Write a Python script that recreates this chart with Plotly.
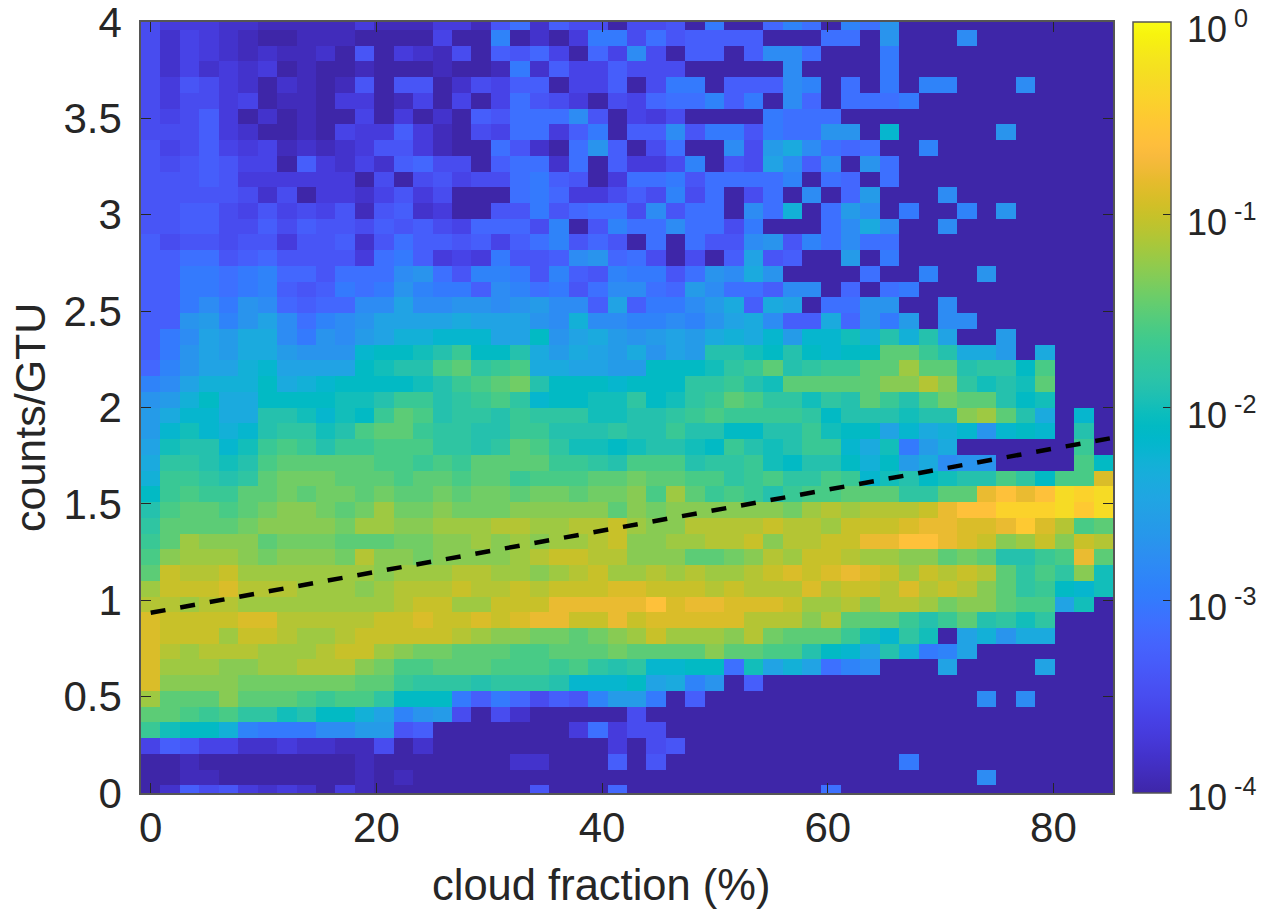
import numpy as np
import plotly.graph_objects as go

# Cell values as tenths of a decade above 1e-4 (0 = 1e-4 floor, 40 = 1e0); rows from y=4 down to y=0.
# Trailing empty bins are left out and filled with the floor value.
row_00 = [5,3,3,3,2,2,1,1,1,1,1,3,1,1,1,3,3,1,6,9,2,7,5,5,0,5,5,6,0,10,0,0,8,11,9,0,11,9,13]
row_01 = [5,2,4,3,2,1,0,0,1,1,1,0,0,0,0,4,0,0,11,0,2,0,3,10,10,5,9,6,7,7,7,7,0,0,0,9,9,0,13,0,0,0,12]
row_02 = [5,2,4,3,2,1,2,1,1,2,0,6,0,3,2,1,5,0,7,6,8,4,0,8,4,12,5,0,7,7,0,7,12,12,9,0,0,0,10]
row_03 = [5,2,4,2,3,2,3,0,1,0,0,1,0,0,0,1,0,0,1,10,2,7,4,4,7,5,5,5,0,0,0,0,0,12,0,0,0,0,10]
row_04 = [5,3,6,5,3,2,0,2,1,0,1,6,0,6,6,0,2,5,4,7,7,0,4,4,7,0,5,10,10,0,7,7,7,12,11,0,9,0,10,0,11,11,0,0,0,12]
row_05 = [5,3,5,5,3,4,0,1,1,0,3,3,0,1,4,0,4,0,4,9,6,5,3,0,5,4,8,9,9,11,7,10,0,12,8,0,9,9,9,10]
row_06 = [5,4,5,7,3,0,2,0,1,0,0,4,0,3,0,2,0,7,6,9,9,9,12,6,0,4,3,5,0,0,0,0,10,9,9,9]
row_07 = [5,5,5,7,3,2,0,0,1,0,4,3,3,7,3,1,0,5,4,9,9,3,7,10,0,7,7,12,6,10,10,6,10,9,9,13,13,0,18,0,0,0,0,0,13]
row_08 = [6,4,5,7,4,3,4,1,2,1,2,3,6,6,3,1,0,0,9,6,2,0,9,13,7,0,5,9,0,0,12,5,14,16,12,9,8,9,0,0,11]
row_09 = [6,5,6,7,6,4,4,0,7,3,2,4,2,7,8,5,5,0,7,9,9,2,9,0,7,3,3,5,11,0,6,5,15,12,7,12,0,13,9]
row_10 = [6,6,6,7,6,3,3,3,3,3,3,0,5,0,5,6,4,5,5,9,10,7,6,0,3,9,9,10,6,9,9,9,9,11,0,9,8,0,9]
row_11 = [6,6,6,6,6,5,2,5,0,3,3,2,4,6,3,5,0,0,0,9,10,8,3,3,5,7,5,11,5,9,0,5,9,0,12,0,8,14,0,0,0,12]
row_12 = [6,6,7,7,5,4,6,4,5,4,6,1,6,7,2,3,0,0,6,6,10,6,8,9,9,5,12,6,9,9,0,12,9,17,0,9,14,12,0,10,0,0,11,0,13]
row_13 = [6,6,7,7,5,5,7,5,7,6,6,5,7,6,7,5,4,8,8,8,5,11,0,6,11,9,9,12,9,9,5,10,0,0,0,9,12,16,12,0,0,12]
row_14 = [7,5,6,6,5,6,6,3,6,6,7,2,6,9,7,7,6,7,4,7,9,11,6,8,6,0,9,0,9,6,6,12,13,6,11,9,12,9,9]
row_15 = [7,7,9,9,6,7,8,6,6,6,6,3,9,10,7,3,4,3,10,6,6,7,12,13,8,9,5,0,5,0,7,15,6,7,0,0,14,0,10]
row_16 = [7,7,10,10,9,10,11,8,8,6,9,9,9,12,13,9,6,11,11,10,6,11,7,6,11,10,10,6,9,13,12,16,13,0,0,0,0,9,0,0,11,0,0,13]
row_17 = [7,7,10,10,9,10,11,7,6,7,10,9,10,13,11,10,10,7,12,11,9,10,6,9,12,12,9,8,14,12,9,9,7,12,12,0,8,0,9,10]
row_18 = [7,7,10,12,10,13,12,8,7,8,8,12,12,15,12,12,13,13,12,13,14,12,12,7,15,7,10,10,12,14,16,7,16,15,0,9,9,13,13,0,0,12]
row_19 = [7,7,13,14,11,13,15,12,9,11,12,13,15,15,15,15,16,15,15,15,13,12,17,12,12,11,11,12,11,13,15,16,12,7,7,16,8,13,10,14,0,12,12]
row_20 = [7,10,12,15,14,16,16,12,10,13,12,14,15,17,17,18,18,18,15,15,19,13,15,16,14,13,14,15,14,16,17,16,18,14,18,18,20,17,21,17,21,15,0,0,14]
row_21 = [7,10,13,15,14,16,16,14,13,13,13,18,19,19,20,21,23,19,19,21,16,14,16,15,14,16,13,15,14,21,21,20,19,21,19,18,19,19,25,26,23,21,16,16,14,0,16]
row_22 = [8,11,13,15,15,17,18,15,15,15,15,19,20,21,21,24,25,22,23,24,16,16,15,15,14,14,19,19,19,20,22,23,26,21,22,23,23,25,25,29,26,26,21,22,22,19,24]
row_23 = [11,12,15,17,17,17,19,16,17,18,19,19,19,19,20,21,23,24,25,27,21,19,19,19,18,19,19,19,22,22,23,21,20,25,25,26,26,26,28,28,30,28,22,20,21,20,26]
row_24 = [13,14,17,19,16,16,19,19,19,19,20,20,21,23,23,21,22,23,24,22,18,19,19,20,20,22,19,20,22,23,25,24,22,22,20,22,21,25,23,21,24,27,26,26,21,19,20]
row_25 = [14,16,18,18,16,16,21,21,20,18,20,19,23,25,24,21,22,22,21,23,22,22,22,20,20,21,21,22,23,24,23,23,23,23,22,19,21,21,21,20,21,21,28,29,26,21,16,0,18]
row_26 = [14,18,20,18,17,18,21,22,22,20,21,24,25,25,23,22,22,21,21,23,23,21,21,21,22,21,21,23,21,21,19,19,21,21,23,20,19,19,15,18,16,17,18,13,18,19,18,0,21]
row_27 = [15,20,21,21,18,20,23,24,23,21,23,23,24,24,24,22,22,21,22,25,24,22,20,20,19,20,21,21,20,19,23,21,20,21,23,23,18,16,20,10,14,16,0,0,0,0,0,0,23]
row_28 = [16,22,22,21,20,21,24,26,26,25,25,25,24,24,23,24,23,25,26,26,25,23,23,22,21,24,24,24,21,22,22,23,20,19,21,21,19,17,19,14,16,12,13,13,0,0,0,0,24,19]
row_29 = [17,23,23,22,21,22,25,27,27,27,25,25,25,24,26,25,24,25,25,23,24,24,24,25,26,27,25,26,24,24,22,23,24,22,22,24,23,18,20,21,19,20,21,21,24,22,19,24,24,32]
row_30 = [19,23,24,23,23,26,26,27,26,27,27,26,27,25,25,27,25,27,27,25,27,27,26,27,27,28,24,29,25,23,24,23,21,23,24,24,25,25,25,22,22,26,26,33,34,33,34,37,36,37]
row_31 = [21,24,25,25,24,26,27,28,28,27,26,27,29,27,27,28,27,27,27,28,28,28,28,28,26,28,27,28,28,28,28,28,28,27,29,30,29,30,30,30,31,33,34,34,36,36,36,37,35,37]
row_32 = [22,25,26,26,25,27,28,28,28,28,27,29,29,28,28,29,29,29,30,30,29,29,30,30,31,29,28,28,30,30,30,30,31,30,30,29,31,31,31,32,33,33,32,32,33,35,32,30,24,26]
row_33 = [23,26,29,28,28,28,26,27,27,27,26,26,26,27,27,28,28,29,28,29,28,29,29,30,31,28,28,29,29,30,30,31,28,30,30,31,31,33,33,34,34,33,32,31,28,29,31,28,31,30]
row_34 = [24,28,29,29,29,28,27,28,28,28,27,30,28,28,27,28,28,28,28,29,30,31,31,30,30,28,28,28,26,26,27,28,30,29,31,31,30,29,29,28,28,25,27,26,21,21,23,24,33,25]
row_35 = [26,31,30,30,31,29,29,29,29,29,29,29,28,29,29,29,30,30,29,29,28,29,30,31,29,29,30,29,30,29,29,30,31,32,31,32,33,32,31,29,31,30,31,30,25,22,24,22,28,20]
row_36 = [29,31,31,31,32,30,30,30,29,29,29,28,29,30,30,30,31,30,30,31,30,31,31,31,32,32,31,31,31,30,31,30,30,30,32,30,31,31,30,32,30,31,30,28,25,22,23,19,18,20]
row_37 = [30,30,29,30,30,29,29,29,29,29,29,29,29,30,31,31,29,29,31,31,31,33,33,33,33,33,34,32,33,33,32,32,32,31,29,29,30,28,30,30,29,27,28,28,25,24,24,15,20]
row_38 = [32,31,31,31,31,32,32,30,30,30,30,30,31,31,32,31,31,32,31,32,33,33,31,31,33,31,32,32,32,32,32,30,30,30,28,30,26,26,25,23,21,23,25,21,22,20,22]
row_39 = [32,31,31,31,29,31,31,30,29,29,30,31,31,31,31,31,30,29,28,28,27,27,26,27,28,29,31,29,29,29,28,30,27,26,26,25,23,20,18,22,20,0,15,17,13,16,16]
row_40 = [32,30,29,30,30,30,29,29,29,30,31,31,29,28,27,27,26,26,25,24,24,26,26,26,27,26,26,26,25,28,25,25,24,24,21,19,18,15,21,17,10,11,15]
row_41 = [32,29,29,29,28,28,29,29,30,30,30,28,27,24,24,25,25,25,24,24,24,23,24,22,21,22,18,18,19,19,9,20,15,17,15,9,11,12,0,0,0,15,0,0,0,0,15]
row_42 = [32,28,28,28,28,27,27,27,27,27,27,26,25,23,22,22,22,21,22,22,22,21,18,18,18,19,15,16,11,13,0,7]
row_43 = [29,26,26,26,28,26,25,25,24,23,24,24,22,19,19,19,10,7,10,8,5,7,6,11,14,14,10,0,7,0,0,0,0,0,0,0,0,0,0,0,0,0,0,12,0,12]
row_44 = [26,25,24,23,24,22,22,20,21,19,19,17,15,11,13,14,5,0,5,2,0,0,0,0,0,5]
row_45 = [23,20,19,19,17,11,10,10,10,12,12,14,14,6,7,0,0,0,0,0,0,0,3,9,3,5,5]
row_46 = [4,7,6,4,4,2,2,3,2,2,1,1,5,0,2,0,0,0,0,0,0,0,0,0,3,0,5,6]
row_47 = [0,0,1,0,0,0,0,0,0,0,0,1,0,0,0,0,0,0,0,2,2,0,0,0,7,0,6,0,0,0,0,0,0,0,0,0,0,0,0,10]
row_48 = [0,0,1,1,0,0,0,0,0,0,0,1,0,1,0,0,0,0,0,0,0,0,0,0,0,0,0,0,0,0,0,0,0,0,0,0,0,0,0,0,0,0,0,12]
row_49 = [0,2,7,5,6,3,2,3,2,0,3,1,0,0,0,0,0,0,0,0,6,0,0,0,8,0,0,0,0,0,0,0,0,0,0,9]

level_rows = [row_00,row_01,row_02,row_03,row_04,row_05,row_06,row_07,row_08,row_09,
              row_10,row_11,row_12,row_13,row_14,row_15,row_16,row_17,row_18,row_19,
              row_20,row_21,row_22,row_23,row_24,row_25,row_26,row_27,row_28,row_29,
              row_30,row_31,row_32,row_33,row_34,row_35,row_36,row_37,row_38,row_39,
              row_40,row_41,row_42,row_43,row_44,row_45,row_46,row_47,row_48,row_49]

x_ticks = [0, 20, 40, 60, 80]
y_ticks = [0, 0.5, 1, 1.5, 2, 2.5, 3, 3.5, 4]
y_tick_labels = ["0", "0.5", "1", "1.5", "2", "2.5", "3", "3.5", "4"]
cbar_decades = [-4, -3, -2, -1, 0]
fit_x = [0, 85]
fit_y = [0.935, 1.84]

parula = [
 (0.2422,0.1504,0.6603),(0.2504,0.1650,0.7076),(0.2578,0.1818,0.7511),(0.2647,0.1978,0.7952),
 (0.2706,0.2147,0.8364),(0.2751,0.2342,0.8710),(0.2783,0.2559,0.8991),(0.2803,0.2782,0.9221),
 (0.2813,0.3006,0.9414),(0.2810,0.3228,0.9579),(0.2795,0.3447,0.9717),(0.2760,0.3667,0.9829),
 (0.2699,0.3892,0.9906),(0.2602,0.4123,0.9952),(0.2440,0.4358,0.9988),(0.2206,0.4603,0.9973),
 (0.1963,0.4847,0.9892),(0.1834,0.5074,0.9798),(0.1786,0.5289,0.9682),(0.1764,0.5499,0.9520),
 (0.1687,0.5703,0.9359),(0.1540,0.5902,0.9218),(0.1460,0.6091,0.9079),(0.1380,0.6276,0.8973),
 (0.1248,0.6459,0.8883),(0.1113,0.6635,0.8763),(0.0952,0.6798,0.8598),(0.0689,0.6948,0.8394),
 (0.0297,0.7082,0.8163),(0.0036,0.7203,0.7917),(0.0067,0.7312,0.7660),(0.0433,0.7411,0.7394),
 (0.0964,0.7500,0.7120),(0.1408,0.7584,0.6842),(0.1717,0.7670,0.6554),(0.1938,0.7758,0.6251),
 (0.2161,0.7843,0.5923),(0.2470,0.7918,0.5567),(0.2906,0.7973,0.5188),(0.3406,0.8008,0.4789),
 (0.3909,0.8029,0.4354),(0.4456,0.8024,0.3909),(0.5044,0.7993,0.3480),(0.5616,0.7942,0.3045),
 (0.6174,0.7876,0.2612),(0.6720,0.7793,0.2227),(0.7242,0.7698,0.1910),(0.7738,0.7598,0.1646),
 (0.8203,0.7498,0.1535),(0.8634,0.7406,0.1596),(0.9035,0.7330,0.1774),(0.9393,0.7288,0.2100),
 (0.9728,0.7298,0.2394),(0.9956,0.7434,0.2371),(0.9970,0.7659,0.2199),(0.9952,0.7861,0.1990),
 (0.9892,0.8086,0.1816),(0.9786,0.8297,0.1663),(0.9676,0.8515,0.1490),(0.9610,0.8742,0.1291),
 (0.9597,0.8989,0.1141),(0.9628,0.9265,0.0817),(0.9691,0.9555,0.0555),(0.9769,0.9839,0.0805)]
colorscale = [[i / (len(parula) - 1), "rgb(%d,%d,%d)" % tuple(round(c * 255) for c in p)]
              for i, p in enumerate(parula)]


def reading_to_exponent(level):
    # Colour readings in the green-to-olive band came out one step high against the colour bar.
    return ((level - 1) if 26 <= level <= 33 else level) / 10 - 4


n_rows, n_cols = 50, 50
z = [[reading_to_exponent(lv) for lv in r + [0] * (n_cols - len(r))] for r in level_rows]
x_centers = [i * 1.7222 for i in range(n_cols)]
y_centers = [4 - k * 4 / (n_rows - 1) for k in range(n_rows)]

INK = "#262626"
FRAME = "#555555"
FONT = "Liberation Sans"
W, H = 1272, 909
L, R, T, B = 141, 1113, 22, 793
px_x = lambda p: (p - L) / (R - L)
px_y = lambda p: (B - p) / (B - T)

fig = go.Figure()
fig.add_trace(go.Heatmap(
    x=x_centers, y=y_centers, z=z, zmin=-4, zmax=0, colorscale=colorscale,
    colorbar=dict(
        xref="container", x=1133 / W, xanchor="left", thickness=38, thicknessmode="pixels",
        len=1, lenmode="fraction", y=0, yanchor="bottom", xpad=0, ypad=0,
        outlinecolor=FRAME, outlinewidth=1.5, tickmode="array", tickvals=cbar_decades,
        ticks="inside", ticklen=8, tickwidth=1, tickcolor=INK, showticklabels=False,
    ),
))
fig.add_trace(go.Scatter(x=fit_x, y=fit_y, mode="lines", showlegend=False, hoverinfo="skip",
                         line=dict(color="black", width=4.5, dash="15px,15px")))

# Colour-bar minor ticks (log spacing) and decade labels
for d in cbar_decades[:-1]:
    for m in range(2, 10):
        yp = (d + np.log10(m) + 4) / 4
        fig.add_shape(type="line", xref="paper", yref="paper", x0=px_x(1167), x1=px_x(1171),
                      y0=yp, y1=yp, line=dict(color=INK, width=1))
for d in cbar_decades:
    fig.add_annotation(xref="paper", yref="paper", x=px_x(1185), y=(d + 4) / 4, xanchor="left",
                       yanchor="middle", yshift=-2 if d == -4 else -5, showarrow=False,
                       text="10<sup>\u00a0%d</sup>" % d,
                       font=dict(family=FONT, size=36, color=INK))

fig.add_annotation(xref="paper", yref="paper", x=px_x(601), y=px_y(859), xanchor="center", yanchor="top",
                   showarrow=False, text="cloud fraction (%)", font=dict(family=FONT, size=43.5, color=INK))
fig.add_annotation(xref="paper", yref="paper", x=px_x(30), y=px_y(418), xanchor="center", yanchor="middle",
                   textangle=-90, showarrow=False, text="counts/GTU",
                   font=dict(family=FONT, size=43, color=INK))

axis_common = dict(showline=True, linecolor=FRAME, linewidth=1.5, mirror="allticks", ticks="inside",
                   ticklen=10, tickwidth=1, tickcolor=INK, showgrid=False, zeroline=False,
                   ticklabeloverflow="allow", tickfont=dict(family=FONT, size=42, color=INK))
fig.update_layout(
    width=W, height=H, margin=dict(l=L, r=W - R, t=T, b=H - B, pad=0, autoexpand=False),
    paper_bgcolor="white", plot_bgcolor="white", showlegend=False,
    xaxis=dict(range=[-0.86, 85.28], tickmode="array", tickvals=x_ticks, ticktext=[str(v) for v in x_ticks],
               ticklabelstandoff=-3, **axis_common),
    yaxis=dict(range=[0, 4], tickmode="array", tickvals=y_ticks, ticktext=y_tick_labels,
               ticklabelstandoff=9, **axis_common),
)
fig.write_html("out.html", config={"displayModeBar": False},
               post_script="document.body.style.margin='0';")
